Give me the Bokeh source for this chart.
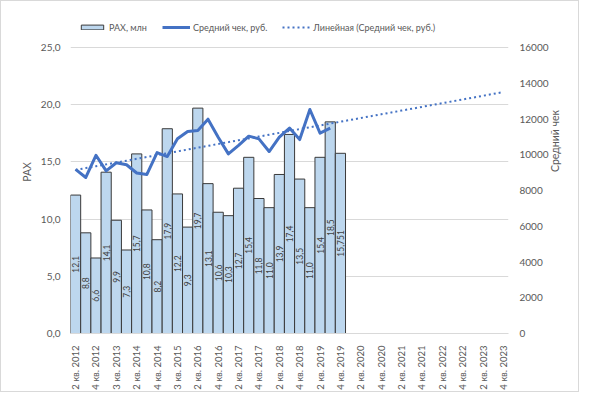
import numpy as np
from bokeh.plotting import figure
from bokeh.models import Range1d, LinearAxis, FixedTicker, Legend, LegendItem
from bokeh.embed import file_html
from bokeh.resources import INLINE
from bokeh.core.properties import value

# ---- data ----
tick_labels = ["2 кв. 2012", "4 кв. 2012", "3 кв. 2013", "2 кв. 2014", "4 кв. 2014",
               "3 кв. 2015", "2 кв. 2016", "4 кв. 2016", "2 кв. 2017", "4 кв. 2017",
               "2 кв. 2018", "4 кв. 2018", "2 кв. 2019", "4 кв. 2019", "2 кв. 2020",
               "4 кв. 2020", "2 кв. 2021", "4 кв. 2021", "2 кв. 2022", "4 кв. 2022",
               "2 кв. 2023", "4 кв. 2023"]
n_categories = 43
rax = [12.1, 8.8, 6.6, 14.1, 9.9, 7.3, 15.7, 10.8, 8.2, 17.9, 12.2, 9.3, 19.7, 13.1,
       10.6, 10.3, 12.7, 15.4, 11.8, 11.0, 13.9, 17.4, 13.5, 11.0, 15.4, 18.5, 15.751]
avg_check = [9180, 8730, 9970, 9100, 9550, 9440, 8980, 8900, 10120, 9900, 10890, 11300,
             11360, 11990, 10980, 10050, 10520, 11040, 10890, 10180, 10980, 11490,
             10850, 12530, 11210, 11490]
left_ticks = [0, 5, 10, 15, 20, 25]
right_ticks = [0, 2000, 4000, 6000, 8000, 10000, 12000, 14000, 16000]

FONT = "Lato"
TEXT = "#595959"
BLUE = "#4472C4"
GRID = "#D9D9D9"

bar_x = list(range(len(rax)))
line_x = list(range(len(avg_check)))
bar_labels = [str(v).replace(".", ",") for v in rax]

# layout: plot frame extended above the value area so the legend sits inside it
FRAME_H = 323          # px, frame height
VALUE_H = 286          # px, height of the 0..25 value area
ext = FRAME_H / VALUE_H
left_max = left_ticks[-1]
right_max = right_ticks[-1]

p = figure(width=579, height=392, output_backend="svg", toolbar_location=None,
           x_range=Range1d(-0.5, n_categories - 0.5), y_range=Range1d(0, left_max * ext),
           min_border_left=69, min_border_right=72, min_border_top=9, min_border_bottom=60)
p.extra_y_ranges = {"check": Range1d(0, right_max * ext)}
p.outline_line_color = None
p.styles = {"border": "1px solid #D9D9D9"}

# axes
xa = p.xaxis[0]
xa.ticker = FixedTicker(ticks=list(range(0, n_categories, 2)))
xa.major_label_overrides = {i * 2: lab for i, lab in enumerate(tick_labels)}
xa.major_label_orientation = np.pi / 2
xa.axis_line_color = GRID
xa.major_tick_line_color = None
xa.minor_tick_line_color = None
xa.major_label_standoff = 6
xa.major_label_text_font = FONT
xa.major_label_text_font_size = "9.5px"
xa.major_label_text_color = TEXT

ya = p.yaxis[0]
ya.ticker = FixedTicker(ticks=left_ticks)
ya.bounds = (left_ticks[0], left_ticks[-1])
ya.major_label_overrides = {t: f"{t:.1f}".replace(".", ",") for t in left_ticks}
ya.axis_line_color = None
ya.major_tick_line_color = None
ya.minor_tick_line_color = None
ya.major_label_standoff = 4
ya.major_label_text_font = FONT
ya.major_label_text_font_size = "10px"
ya.major_label_text_color = TEXT
ya.axis_label = "РАХ"
ya.axis_label_text_font = FONT
ya.axis_label_text_font_size = "10.5px"
ya.axis_label_text_font_style = "normal"
ya.axis_label_text_color = TEXT
ya.axis_label_standoff = 5

ra = LinearAxis(y_range_name="check", ticker=FixedTicker(ticks=right_ticks))
ra.bounds = (right_ticks[0], right_ticks[-1])
ra.axis_line_color = None
ra.major_tick_line_color = None
ra.minor_tick_line_color = None
ra.major_label_standoff = 5
ra.major_label_text_font = FONT
ra.major_label_text_font_size = "10px"
ra.major_label_text_color = TEXT
ra.axis_label = "Средний чек"
ra.axis_label_orientation = np.pi / 2
ra.axis_label_text_font = FONT
ra.axis_label_text_font_size = "10.5px"
ra.axis_label_text_font_style = "normal"
ra.axis_label_text_color = TEXT
ra.axis_label_standoff = 3
p.add_layout(ra, "right")

p.xgrid.visible = False
p.ygrid.ticker = FixedTicker(ticks=left_ticks)
p.ygrid.grid_line_color = GRID

# glyphs
bars = p.vbar(x=bar_x, top=rax, width=1.0, fill_color="#BDD7EE",
              line_color="#3A3A3A", line_width=1)
p.text(x=bar_x, y=[v / 2 for v in rax], text=bar_labels, angle=np.pi / 2,
       text_align="center", text_baseline="middle", text_font=value(FONT),
       text_font_size="8.5px", text_color="#404040")
line = p.line(x=line_x, y=avg_check, y_range_name="check", line_width=3,
              line_color=BLUE, line_join="round")
coef = np.polyfit(line_x, avg_check, 1)
trend_x = np.arange(n_categories)
trend_y = np.polyval(coef, trend_x)
trend = p.line(x=trend_x, y=trend_y, y_range_name="check", line_width=2,
               line_color=BLUE, line_dash="2 3")

legend = Legend(items=[LegendItem(label="РАХ, млн", renderers=[bars]),
                       LegendItem(label="Средний чек, руб.", renderers=[line]),
                       LegendItem(label="Линейная (Средний чек, руб.)", renderers=[trend])],
                orientation="horizontal", location=(8, 299),
                glyph_width=28, glyph_height=6, label_height=14, label_standoff=3,
                spacing=15, padding=0, margin=0,
                border_line_color=None, background_fill_alpha=0,
                label_text_font=FONT, label_text_font_size="9px",
                label_text_color=TEXT)
p.add_layout(legend)

open("out.html", "w").write(file_html(p, INLINE))
